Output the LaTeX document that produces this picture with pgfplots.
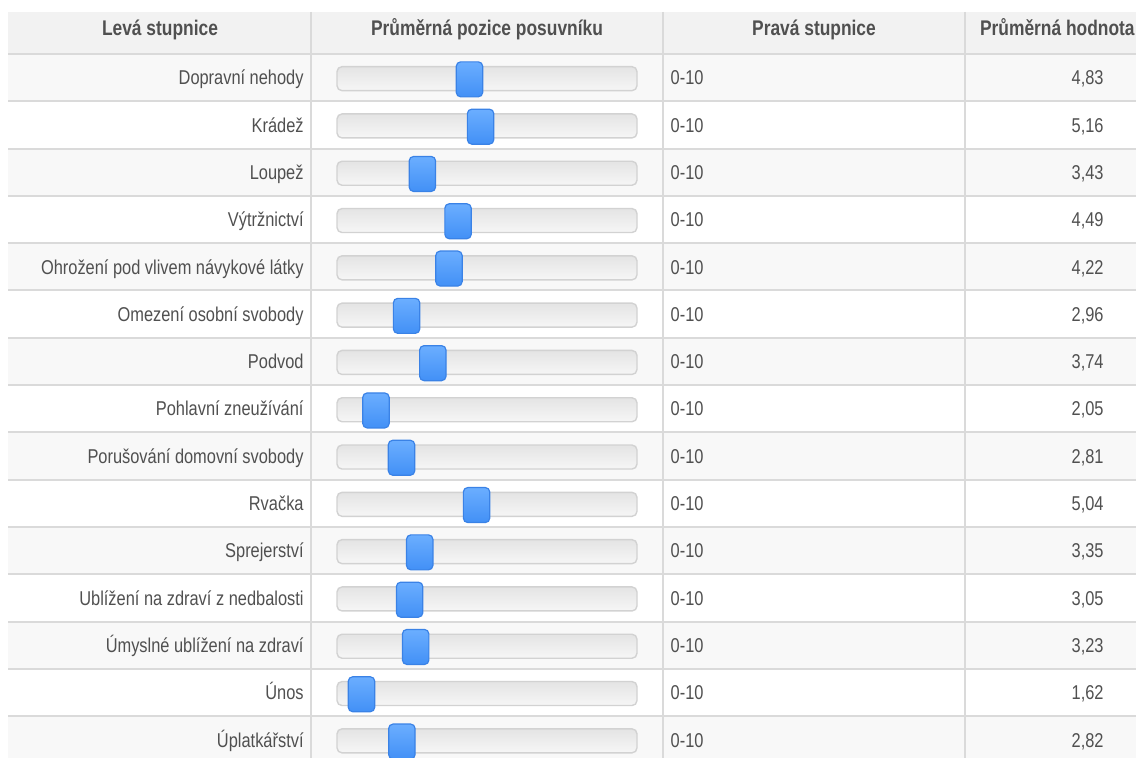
\documentclass[border=0pt]{standalone}
\usepackage{fontspec}
\setmainfont{Liberation Sans}[FakeStretch=0.82]
\usepackage{pgfplots}
\usepackage{pgfplotstable}
\pgfplotsset{compat=1.18}
\definecolor{txt}{HTML}{505050}
\definecolor{gridc}{HTML}{DADADA}
\definecolor{hdr}{HTML}{F2F2F2}
\definecolor{odd}{HTML}{F8F8F8}
\definecolor{trackB}{HTML}{D2D2D2}
\definecolor{trackT}{HTML}{E4E4E4}
\definecolor{trackL}{HTML}{F6F6F6}
\definecolor{knobT}{HTML}{6BAEFF}
\definecolor{knobB}{HTML}{4290F6}
\definecolor{knobD}{HTML}{3A82E6}

\pgfplotstableread[col sep=semicolon]{
row;name;value;disp;scale
1;Dopravní nehody;4.83;4,83;0-10
2;Krádež;5.16;5,16;0-10
3;Loupež;3.43;3,43;0-10
4;Výtržnictví;4.49;4,49;0-10
5;Ohrožení pod vlivem návykové látky;4.22;4,22;0-10
6;Omezení osobní svobody;2.96;2,96;0-10
7;Podvod;3.74;3,74;0-10
8;Pohlavní zneužívání;2.05;2,05;0-10
9;Porušování domovní svobody;2.81;2,81;0-10
10;Rvačka;5.04;5,04;0-10
11;Sprejerství;3.35;3,35;0-10
12;Ublížení na zdraví z nedbalosti;3.05;3,05;0-10
13;Úmyslné ublížení na zdraví;3.23;3,23;0-10
14;Únos;1.62;1,62;0-10
15;Úplatkářství;2.82;2,82;0-10
}\data

\pgfdeclareplotmark{knob}{%
  \shade[top color=knobT, bottom color=knobB, draw=knobD, line width=0.6pt, rounded corners=2.2pt]
    (-6.6pt,-9.6pt) rectangle (6.6pt,7.9pt);
}
\pgfdeclareplotmark{emptymark}{}

\begin{document}
\begin{tikzpicture}
\useasboundingbox (0,0) rectangle (568pt,-379pt);
\begin{scope}[x=0.5pt,y=-0.5pt]
  \fill[hdr] (8,12) rectangle (1140,54);
  \foreach \i in {1,3,...,15} \fill[odd] (8,{54+47.3*(\i-1)}) rectangle (1140,{54+47.3*\i});
  \foreach \i in {0,...,15} \draw[gridc,line width=1pt] (8,{54+47.3*\i}) -- (1140,{54+47.3*\i});
  \foreach \x in {311,663,965} \draw[gridc,line width=1pt] (\x,12) -- (\x,762);
  \foreach \i in {1,...,15}
    \shade[top color=trackT, bottom color=trackL, draw=trackB, line width=0.7pt, rounded corners=2.5pt]
      (337,{77.65+47.3*(\i-1)-11}) rectangle (637,{77.65+47.3*(\i-1)+13});
  \begin{scope}[every node/.style={text=txt, inner sep=0pt, font=\fontsize{10.6}{13}\selectfont\bfseries, text height=7.7pt, text depth=0pt}]
    \node at (160,27.5) {Levá stupnice};
    \node at (487,27.5) {Průměrná pozice posuvníku};
    \node at (814,27.5) {Pravá stupnice};
    \node[anchor=east] at (1135,27.5) {Průměrná hodnota};
  \end{scope}
\end{scope}
\begin{axis}[at={(0,0)}, anchor=north west, width=568pt, height=379pt, scale only axis,
  xmin=-9.126, xmax=24.643, ymin=-0.6416, ymax=15.3837, y dir=reverse,
  axis lines=none, clip=false,
  every node near coord/.append style={text=txt, inner sep=0pt, font=\fontsize{10}{12}\selectfont, text height=7.2pt, text depth=0pt}]
  \addplot[only marks, mark=emptymark, nodes near coords, point meta=explicit symbolic,
    every node near coord/.append style={anchor=east}] table[x expr={-0.09}, y=row, meta=name]{\data};
  \addplot[only marks, mark=emptymark, nodes near coords, point meta=explicit symbolic,
    every node near coord/.append style={anchor=west}] table[x expr={10.80}, y=row, meta=scale]{\data};
  \addplot[only marks, mark=emptymark, nodes near coords, point meta=explicit symbolic,
    every node near coord/.append style={anchor=east}] table[x expr={23.69}, y=row, meta=disp]{\data};
  \addplot[only marks, mark=knob] table[x=value, y=row]{\data};
\end{axis}
\end{tikzpicture}
\end{document}
